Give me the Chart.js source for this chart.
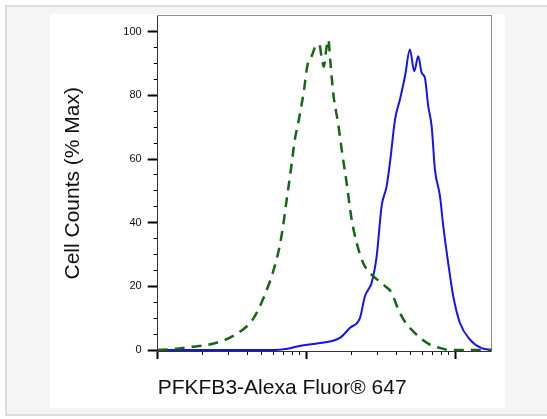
<!DOCTYPE html>
<html>
<head>
<meta charset="utf-8">
<script src="https://cdn.jsdelivr.net/npm/chart.js@4.4.1/dist/chart.umd.min.js"></script>
<style>
	body { margin: 0; background: #fff; }
	#frame { position: absolute; left: 5px; top: 5px; width: 560px; height: 407px; border: 2px solid #dcdcdc; background: #f5f5f5; }
	#card { position: absolute; left: 50px; top: 14px; width: 455px; height: 394px; background: #fff; }
	#mycanvas { position: absolute; left: 0; top: 0; }
</style>
</head>
<body>
<div id="frame"></div>
<div id="card"></div>
<canvas id="mycanvas" width="547" height="419"></canvas>
<script>
// control (isotype) histogram - green dashed
var ctrlX = [100, 126, 162, 234, 331, 437, 525, 603, 661, 692, 733, 785, 832, 891, 955, 1012, 1084, 1148, 1216, 1259, 1303, 1349, 1396, 1445, 1514, 1622, 1718, 1854, 2004, 2168, 2399, 2729, 3090, 3357, 3715, 4121, 4624, 5188, 5888, 6730, 7943, 9162, 17458];
var ctrlY = [0, 0.3, 0.9, 2.0, 4.8, 9.8, 17.5, 25.5, 33, 38.5, 47, 57, 66, 73, 81, 89.5, 92.5, 95.5, 96, 92, 89, 94, 97.5, 90, 80, 71.5, 63, 52.5, 41, 33.6, 27.3, 23.7, 21.5, 20.1, 18, 12.7, 8.5, 5.9, 3.5, 1.7, 0.6, 0, 0];

// PFKFB3 stained histogram - blue
var sampleX = [100, 597, 741, 895, 1227, 1671, 1954, 2280, 2460, 2594, 2729, 2951, 3184, 3443, 3622, 3917, 4227, 4571, 4932, 5272, 5610, 5916, 6223, 6546, 6902, 7261, 7852, 8260, 8913, 9638, 10691, 12474, 14928, 17458];
var sampleY = [0, 0, 0.4, 1.3, 2.2, 3.8, 7.0, 10.1, 16.9, 19.0, 21.1, 29.5, 45.2, 51.5, 58.8, 72.4, 78.7, 86.0, 94.4, 87.6, 92.3, 87.1, 85.5, 76.6, 70.3, 56.7, 48.3, 38.9, 27.3, 16.9, 8.5, 3.3, 0.6, 0];

// axis ticks
var xMajorTicks = [100, 1000, 10000];
var xMinorTicks = [100, 200, 300, 400, 500, 600, 700, 800, 900, 1000, 2000, 3000, 4000, 5000, 6000, 7000, 8000, 9000, 10000];
var yMajorTicks = [0, 20, 40, 60, 80, 100];
var yMinorTicks = [0, 5, 10, 15, 20, 25, 30, 35, 40, 45, 50, 55, 60, 65, 70, 75, 80, 85, 90, 95, 100];

var xMin = 100, xMax = 17458;
var yMin = -0.3, yMax = 105.1;

function toPoints(xs, ys) {
	var pts = [];
	for (var i in xs) {
		pts.push({x: xs[i], y: ys[i]});
	}
	return pts;
}

var fontFam = 'Arial, "Liberation Sans", sans-serif';

var ctx = document.getElementById("mycanvas");

var histChart = new Chart(ctx, {
	type: 'line',
	data: {
		datasets: [
			{
				label: 'Control',
				data: toPoints(ctrlX, ctrlY),
				borderColor: '#166616',
				borderWidth: 2.5,
				borderDash: [10, 7],
				cubicInterpolationMode: 'monotone',
				pointRadius: 0,
				fill: false
			},
			{
				label: 'PFKFB3',
				data: toPoints(sampleX, sampleY),
				borderColor: '#1414ee',
				borderWidth: 2,
				cubicInterpolationMode: 'monotone',
				pointRadius: 0,
				fill: false
			}
		]
	},
	options: {
		responsive: false,
		animation: false,
		layout: {
			padding: {left: 50, top: 15.5, right: 55.3, bottom: 10}
		},
		plugins: {
			legend: {display: false},
			tooltip: {enabled: false}
		},
		scales: {
			x: {
				type: 'logarithmic',
				position: 'bottom',
				weight: 0,
				min: xMin,
				max: xMax,
				afterBuildTicks: function(scale) {
					scale.ticks = xMinorTicks.map(function(v) { return {value: v}; });
				},
				afterFit: function(scale) { scale.height = 4; },
				ticks: {display: false},
				grid: {
					drawOnChartArea: false,
					tickLength: 4,
					color: '#000',
					tickWidth: function(c) { return xMajorTicks.indexOf(c.tick.value) >= 0 ? 2 : 1; }
				},
				border: {color: '#333', width: 1}
			},
			xMajor: {
				type: 'logarithmic',
				position: 'bottom',
				weight: 1,
				min: xMin,
				max: xMax,
				afterBuildTicks: function(scale) {
					scale.ticks = xMajorTicks.map(function(v) { return {value: v}; });
				},
				afterFit: function(scale) { scale.height = 54; },
				ticks: {display: false},
				grid: {drawOnChartArea: false, tickLength: 4, tickWidth: 2, color: '#000'},
				border: {display: false},
				title: {
					display: true,
					text: 'PFKFB3-Alexa Fluor® 647',
					align: 'start',
					color: '#111',
					font: {family: fontFam, size: 21},
					padding: {top: 0, bottom: 8}
				}
			},
			y: {
				type: 'linear',
				position: 'left',
				weight: 0,
				min: yMin,
				max: yMax,
				afterBuildTicks: function(scale) {
					scale.ticks = yMinorTicks.map(function(v) { return {value: v}; });
				},
				afterFit: function(scale) { scale.width = 4; },
				ticks: {display: false},
				grid: {
					drawOnChartArea: false,
					tickLength: 4,
					color: '#000',
					tickWidth: function(c) { return yMajorTicks.indexOf(c.tick.value) >= 0 ? 2 : 1; }
				},
				border: {color: '#333', width: 1}
			},
			yMajor: {
				type: 'linear',
				position: 'left',
				weight: 1,
				min: yMin,
				max: yMax,
				afterBuildTicks: function(scale) {
					scale.ticks = yMajorTicks.map(function(v) { return {value: v}; });
				},
				afterFit: function(scale) { scale.width = 103.7; },
				ticks: {
					color: '#111',
					padding: 6,
					font: {family: fontFam, size: 11}
				},
				grid: {drawOnChartArea: false, tickLength: 6, tickWidth: 2, color: '#000'},
				border: {display: false},
				title: {
					display: true,
					text: 'Cell Counts (% Max)',
					color: '#111',
					font: {family: fontFam, size: 21},
					padding: {top: 10.4, bottom: 0}
				}
			},
			xTop: {
				type: 'linear',
				position: 'top',
				afterFit: function(scale) { scale.height = 0; },
				ticks: {display: false},
				grid: {drawOnChartArea: false, drawTicks: false},
				border: {color: '#8c8c8c', width: 1}
			},
			yRight: {
				type: 'linear',
				position: 'right',
				afterFit: function(scale) { scale.width = 0; },
				ticks: {display: false},
				grid: {drawOnChartArea: false, drawTicks: false},
				border: {color: '#8c8c8c', width: 1}
			}
		}
	}
});
</script>
</body>
</html>
